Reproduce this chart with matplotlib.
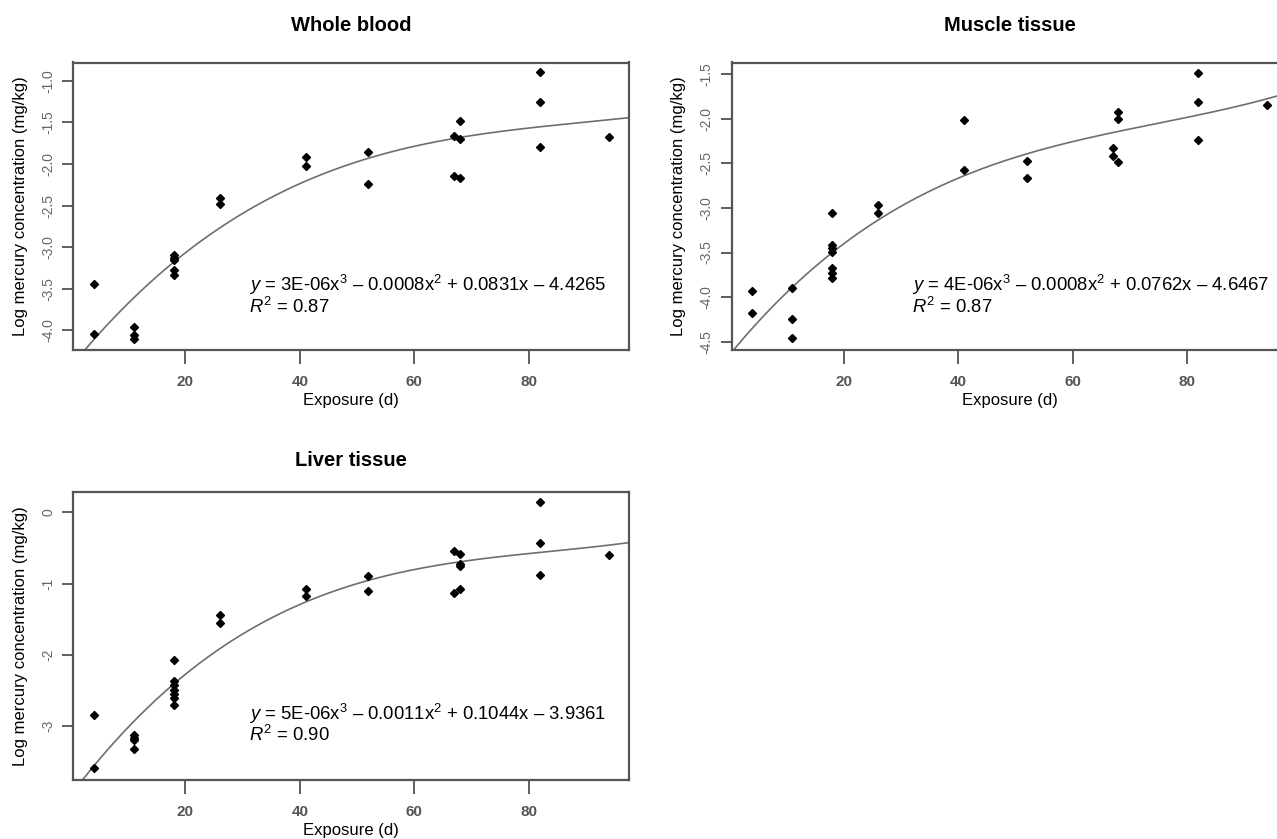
import numpy as np
import matplotlib.pyplot as plt

plt.rcParams['font.family'] = ['Liberation Sans', 'DejaVu Sans']
plt.rcParams['axes.unicode_minus'] = False
plt.rcParams['mathtext.fontset'] = 'custom'
plt.rcParams['mathtext.rm'] = 'Liberation Sans'
plt.rcParams['mathtext.it'] = 'Liberation Sans:italic'

# exposure days and log Hg concentration
wb_x = [4, 4, 11, 11, 11, 18, 18, 18, 18, 18, 26, 26, 41, 41, 52, 52, 67, 67, 68, 68, 68, 82, 82, 82, 94]
wb_y = [-3.44, -4.04, -3.96, -4.05, -4.10, -3.10, -3.13, -3.16, -3.27, -3.33, -2.41, -2.48,
        -1.92, -2.02, -1.85, -2.24, -1.66, -2.15, -1.48, -1.70, -2.17, -0.90, -1.26, -1.79, -1.68]

mu_x = [4, 4, 11, 11, 11, 18, 18, 18, 18, 18, 18, 18, 26, 26, 41, 41, 52, 52, 67, 67, 68, 68, 68, 82, 82, 82, 94]
mu_y = [-3.93, -4.18, -3.90, -4.24, -4.46, -3.06, -3.41, -3.45, -3.49, -3.67, -3.73, -3.78,
        -2.97, -3.06, -2.01, -2.57, -2.47, -2.66, -2.33, -2.42, -1.92, -2.00, -2.48,
        -1.49, -1.81, -2.24, -1.85]

li_x = [4, 4, 11, 11, 11, 11, 18, 18, 18, 18, 18, 18, 18, 26, 26, 41, 41, 52, 52, 67, 67,
        68, 68, 68, 68, 82, 82, 82, 94]
li_y = [-2.84, -3.59, -3.12, -3.16, -3.20, -3.32, -2.07, -2.37, -2.43, -2.49, -2.55, -2.60, -2.71,
        -1.44, -1.56, -1.08, -1.18, -0.90, -1.10, -0.54, -1.14, -0.58, -0.72, -0.75, -1.08,
        0.14, -0.43, -0.88, -0.60]

titles = ['Whole blood', 'Muscle tissue', 'Liver tissue']
equations = [r'$\it{y}$ = 3E-06x$^3$ – 0.0008x$^2$ + 0.0831x – 4.4265',
             r'$\it{y}$ = 4E-06x$^3$ – 0.0008x$^2$ + 0.0762x – 4.6467',
             r'$\it{y}$ = 5E-06x$^3$ – 0.0011x$^2$ + 0.1044x – 3.9361']
r2 = [r'$\it{R}^2$ = 0.87', r'$\it{R}^2$ = 0.87', r'$\it{R}^2$ = 0.90']
yticks = [[-1.0, -1.5, -2.0, -2.5, -3.0, -3.5, -4.0],
          [-1.5, -2.0, -2.5, -3.0, -3.5, -4.0, -4.5],
          [0, -1, -2, -3]]
ytick_labels = [['-1.0', '-1.5', '-2.0', '-2.5', '-3.0', '-3.5', '-4.0'],
                ['-1.5', '-2.0', '-2.5', '-3.0', '-3.5', '-4.0', '-4.5'],
                ['0', '-1', '-2', '-3']]
xticks = [20, 40, 60, 80]

W, H = 1277, 839
fig = plt.figure(figsize=(W / 100, H / 100), dpi=100)

# axes boxes in pixels: left, top, right, bottom
boxes = [(73.3, 62.5, 629.3, 350), (731.7, 62.5, 1287.7, 350), (73.3, 492.0, 629.3, 779.5)]
title_gap = [37, 37, 31]
ylims = [(-4.236, -0.78), (-4.593, -1.369), (-3.748, 0.283)]
eq_pos = [(31.1, -3.456, -3.716), (31.9, -3.858, -4.108), (31.1, -2.822, -3.126)]
data = [(wb_x, wb_y), (mu_x, mu_y), (li_x, li_y)]

for i, (x, y) in enumerate(data):
    l, t, r, b = boxes[i]
    ax = fig.add_axes([l / W, 1 - b / H, (r - l) / W, (b - t) / H])
    ax.set_xlim(0.4, 97.6)
    ax.set_ylim(*ylims[i])

    # cubic fit drawn across the plot range
    coef = np.polyfit(x, y, 3)
    xs = np.linspace(0.4, 97.6, 200)
    ax.plot(xs, np.polyval(coef, xs), color='#6e6e6e', lw=1.2)
    ax.plot(x, y, 'D', color='black', ms=4.3, mec='black')

    ax.set_xticks(xticks)
    ax.set_xticklabels([str(v) for v in xticks], fontsize=11, fontweight='bold', color='#555555')
    ax.set_yticks(yticks[i])
    ax.set_yticklabels(ytick_labels[i], rotation=90, va='center', fontsize=10, color='#666666')
    ax.tick_params(axis='x', length=10, width=1.2, color='#444444', pad=8)
    ax.tick_params(axis='y', length=8, width=1.2, color='#444444', pad=5)
    for s in ax.spines.values():
        s.set_color('#555555')
        s.set_linewidth(1.6)

    ax.text(0.5, 1.0 + title_gap[i] / (b - t), titles[i], transform=ax.transAxes, ha='center',
            va='center', fontsize=14.5, fontweight='bold')
    ax.text(0.5, -51 / (b - t), 'Exposure (d)', transform=ax.transAxes, ha='center', va='center',
            fontsize=12)
    ax.text(-53 / (r - l), 0.5, 'Log mercury concentration (mg/kg)', transform=ax.transAxes,
            rotation=90, ha='center', va='center', fontsize=12)

    ex, ey1, ey2 = eq_pos[i]
    ax.text(ex, ey1, equations[i], ha='left', va='center', fontsize=13.3)
    ax.text(ex, ey2, r2[i], ha='left', va='center', fontsize=13.3)

fig.savefig('out.png', dpi=100)
